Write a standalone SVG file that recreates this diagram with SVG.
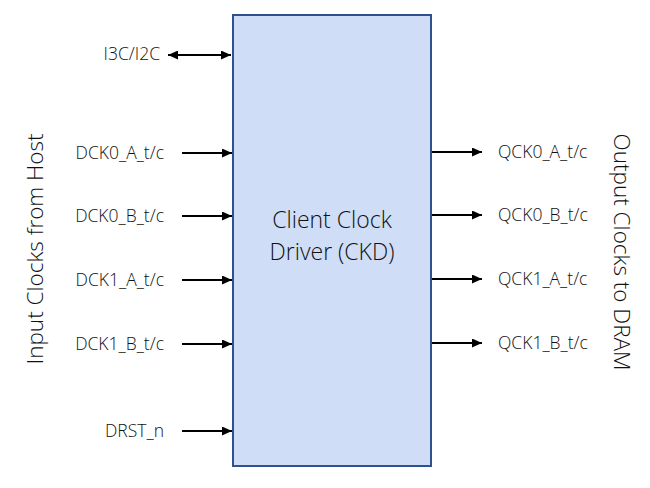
<svg xmlns="http://www.w3.org/2000/svg" width="650" height="488" viewBox="0 0 650 488">
<defs>
<style>
.lbl{font-family:"Open Sans","Liberation Sans",sans-serif;font-size:17.5px;font-weight:300;fill:#111}
.big{font-family:"Open Sans","Liberation Sans",sans-serif;font-size:23px;font-weight:300;fill:#111}
.side{font-family:"Open Sans","Liberation Sans",sans-serif;font-size:22.5px;font-weight:300;fill:#111}
.ar{stroke:#000;stroke-width:2;fill:none}
</style>
<marker id="ah" viewBox="0 0 10 10" refX="10" refY="5" markerWidth="5" markerHeight="4.5" orient="auto-start-reverse" markerUnits="strokeWidth" preserveAspectRatio="none">
<path d="M0,0 L10,5 L0,10 z" fill="#000"/>
</marker>
</defs>
<rect width="650" height="488" fill="#fff"/>
<g id="ckd">
<rect x="233" y="15" width="198" height="451" fill="#CFDDF6" stroke="#2F528F" stroke-width="2"/>
<text class="big" x="332" y="228" text-anchor="middle">Client Clock</text>
<text class="big" x="332" y="260" text-anchor="middle">Driver (CKD)</text>
</g>
<g id="connectors">
<line class="ar" x1="168" y1="55" x2="231" y2="55" marker-start="url(#ah)" marker-end="url(#ah)"/>
<line class="ar" x1="182" y1="153" x2="232" y2="153" marker-end="url(#ah)"/>
<line class="ar" x1="182" y1="216" x2="232" y2="216" marker-end="url(#ah)"/>
<line class="ar" x1="182" y1="280" x2="232" y2="280" marker-end="url(#ah)"/>
<line class="ar" x1="182" y1="344" x2="232" y2="344" marker-end="url(#ah)"/>
<line class="ar" x1="182" y1="431" x2="232" y2="431" marker-end="url(#ah)"/>
<line class="ar" x1="432" y1="152" x2="482" y2="152" marker-end="url(#ah)"/>
<line class="ar" x1="432" y1="215" x2="482" y2="215" marker-end="url(#ah)"/>
<line class="ar" x1="432" y1="279" x2="482" y2="279" marker-end="url(#ah)"/>
<line class="ar" x1="432" y1="343" x2="482" y2="343" marker-end="url(#ah)"/>
</g>
<g id="inputs">
<text class="lbl" x="160" y="60" text-anchor="end">I3C/I2C</text>
<text class="lbl" x="164" y="159" text-anchor="end">DCK0_A_t/c</text>
<text class="lbl" x="164" y="222" text-anchor="end">DCK0_B_t/c</text>
<text class="lbl" x="164" y="286" text-anchor="end">DCK1_A_t/c</text>
<text class="lbl" x="164" y="350" text-anchor="end">DCK1_B_t/c</text>
<text class="lbl" x="164" y="437" text-anchor="end">DRST_n</text>
</g>
<g id="outputs">
<text class="lbl" x="498" y="158">QCK0_A_t/c</text>
<text class="lbl" x="498" y="221">QCK0_B_t/c</text>
<text class="lbl" x="498" y="285">QCK1_A_t/c</text>
<text class="lbl" x="498" y="349">QCK1_B_t/c</text>
</g>
<g id="side-labels">
<text class="side" transform="translate(43,249) rotate(-90)" text-anchor="middle">Input Clocks from Host</text>
<text class="side" transform="translate(614,252) rotate(90)" text-anchor="middle">Output Clocks to DRAM</text>
</g>
</svg>
